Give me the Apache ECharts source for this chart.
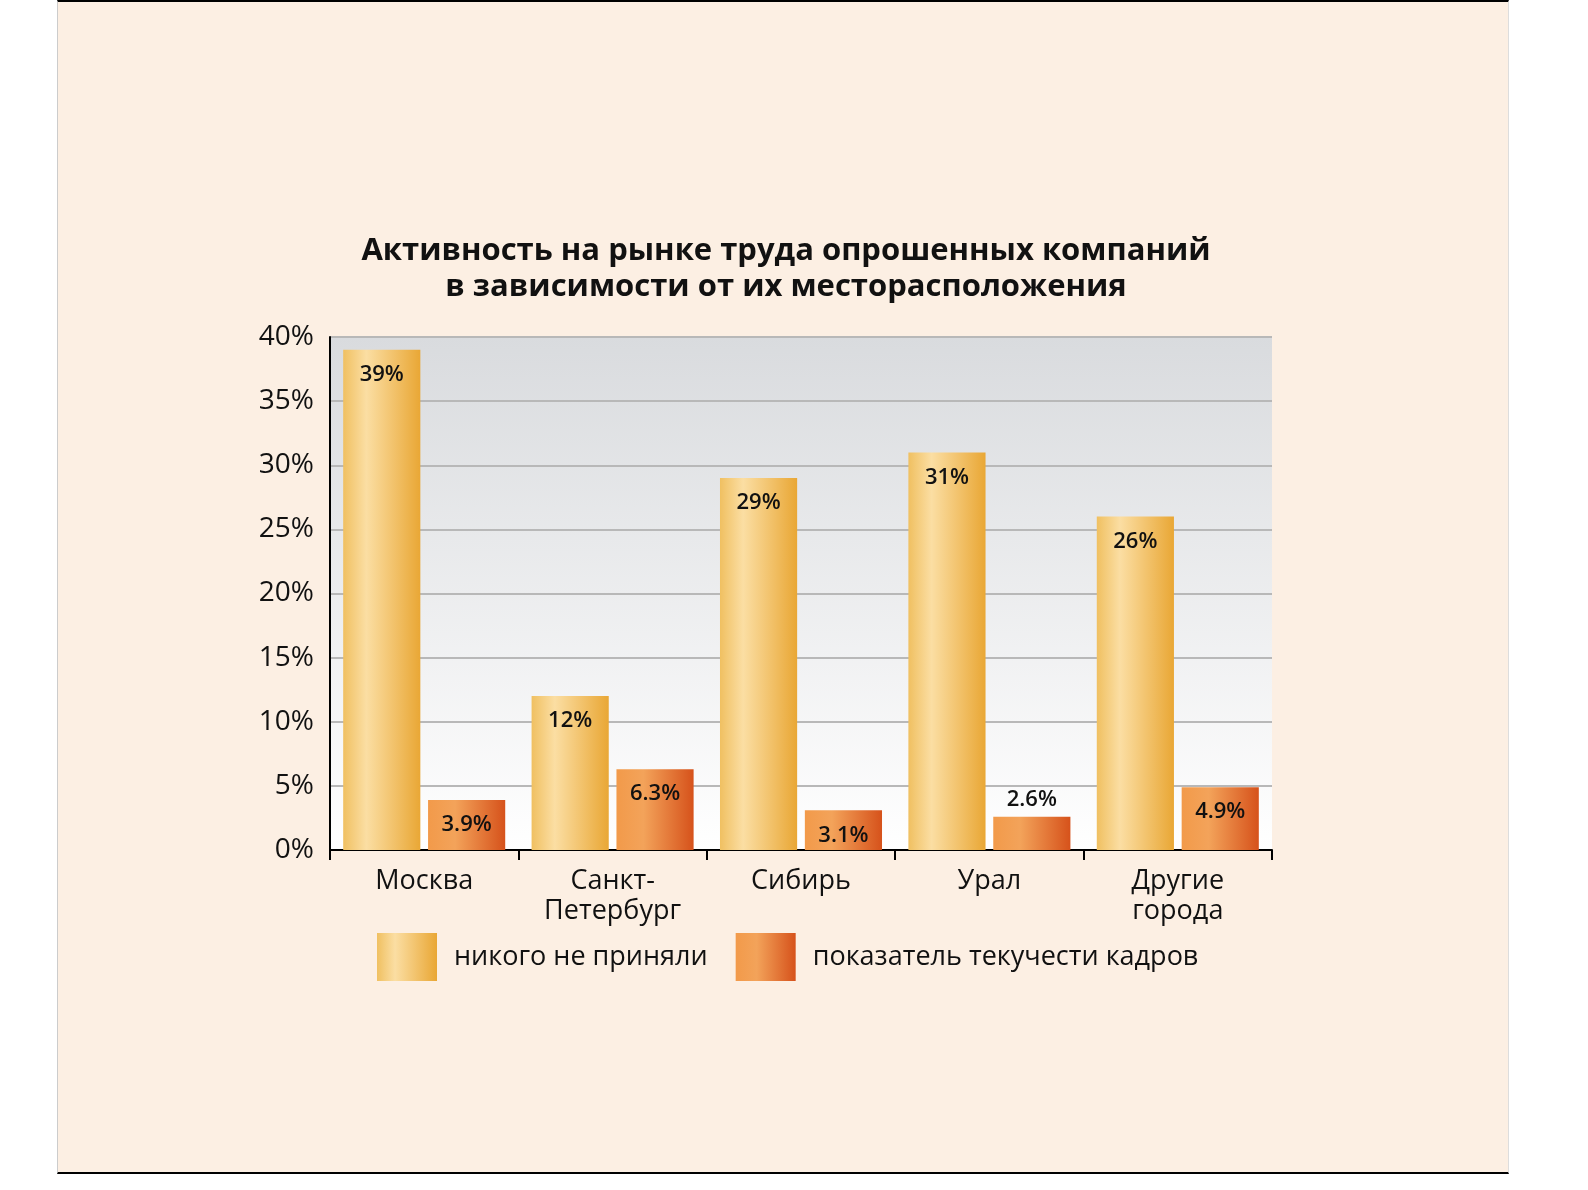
<!DOCTYPE html>
<html><head><meta charset="utf-8">
<script src="https://cdn.jsdelivr.net/npm/echarts@6/dist/echarts.min.js"></script>
<style>html,body{margin:0;padding:0;background:#fff}
#panel{position:absolute;left:57px;top:0;width:1452px;height:1174px;background:#fcefe3;border-top:2px solid #000;border-bottom:2px solid #000;border-left:1px solid #ccc;border-right:1px solid #ddd;box-sizing:border-box}
#c{position:absolute;left:0;top:0;width:1588px;height:1190px}</style>
</head><body><div id="panel"></div><div id="c"></div>
<script>
const categories = ['Москва', 'Санкт-\nПетербург', 'Сибирь', 'Урал', 'Другие\nгорода'];
const seriesNames = ['никого не приняли', 'показатель текучести кадров'];
const hired = [39, 12, 29, 31, 26];
const turnover = [3.9, 6.3, 3.1, 2.6, 4.9];
const yTicks = [0, 5, 10, 15, 20, 25, 30, 35, 40];

const chart = echarts.init(document.getElementById('c'), null, {renderer:'canvas'});
const gY = new echarts.graphic.LinearGradient(0,0,1,0,[{offset:0,color:'#f0c061'},{offset:0.3,color:'#fbdea3'},{offset:1,color:'#e9a735'}]);
const gR = new echarts.graphic.LinearGradient(0,0,1,0,[{offset:0,color:'#f29a4a'},{offset:0.35,color:'#f3a35a'},{offset:1,color:'#d6521b'}]);
const font = 'Open Sans, DejaVu Sans, sans-serif';
const lbl = {show:true,position:'insideTop',distance:14,formatter:p=>p.value+'%',fontFamily:font,fontSize:22,fontWeight:600,color:'#111'};
chart.setOption({
  backgroundColor:'transparent',
  animation:false,
  title:{text:'Активность на рынке труда опрошенных компаний\nв зависимости от их месторасположения',left:781,textAlign:'center',top:228,
    textStyle:{fontFamily:font,fontWeight:'bold',fontSize:31,lineHeight:36,color:'#111'}},
  legend:{bottom:204,left:372,itemWidth:60,itemHeight:48,itemGap:28,icon:'rect',
    textStyle:{fontFamily:font,fontSize:27,color:'#111',padding:[0,0,0,12]},
    data:seriesNames},
  grid:{left:330,right:316,top:337,bottom:340,show:true,borderWidth:0,
    backgroundColor:new echarts.graphic.LinearGradient(0,0,0,1,[{offset:0,color:'#d9dbde'},{offset:1,color:'#ffffff'}])},
  xAxis:{type:'category',data:categories,axisLine:{lineStyle:{color:'#000',width:2}},
    axisTick:{show:true,length:10,lineStyle:{color:'#000',width:2}},
    axisLabel:{fontFamily:font,fontSize:27,color:'#111',lineHeight:30,margin:16}},
  yAxis:{type:'value',min:0,max:40,interval:5,
    axisLine:{show:true,lineStyle:{color:'#000',width:2}},axisTick:{show:false},
    splitLine:{lineStyle:{color:'#b8b8b8',width:2}},
    axisLabel:{fontFamily:font,fontSize:28,color:'#111',margin:16,formatter:v=>yTicks.includes(v)?v+'%':''}},
  series:[
    {name:seriesNames[0],type:'bar',data:hired,barCategoryGap:'14%',barGap:'10%',
      itemStyle:{color:gY},label:lbl},
    {name:seriesNames[1],type:'bar',
      data:turnover.map((v,i)=>i===3?{value:v,label:{position:'top',distance:6}}:v),
      itemStyle:{color:gR},label:lbl}
  ]
});
</script></body></html>
